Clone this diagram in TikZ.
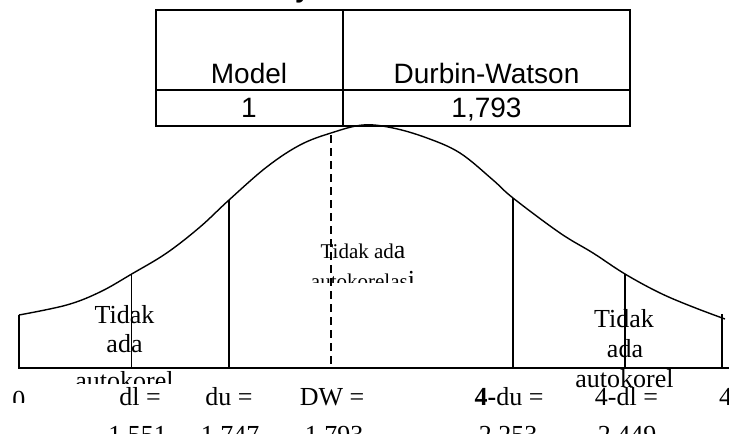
\documentclass[tikz,border=0pt]{standalone}
\usepackage{fontspec}
\setmainfont{Liberation Serif}
\newfontfamily\arialf{Liberation Sans}
\begin{document}
\begin{tikzpicture}[x=1pt,y=-1pt,
  tbl/.style={line width=1.8pt},
  crv/.style={line width=1.4pt},
  vline/.style={line width=1.4pt},
  dline/.style={line width=1.6pt, dash pattern=on 8pt off 5pt},
  lbl/.style={font=\fontsize{26}{30}\selectfont, inner sep=0pt, anchor=base},
  small/.style={font=\fontsize{21}{25}\selectfont, inner sep=0pt, anchor=base},
  sans/.style={font=\arialf\fontsize{28}{32}\selectfont, inner sep=0pt, anchor=base}]
\useasboundingbox (0,0) rectangle (729,434);
% title fragment
\node[font=\arialf\bfseries\fontsize{27}{30}\selectfont, inner sep=0pt, anchor=base west] (ttl) at (295,-3) {y};
% table
\draw[tbl] (156,10) rectangle (630,126);
\draw[tbl] (156,90) -- (630,90);
\draw[tbl] (343,10) -- (343,126);
\node[sans] (hm) at (249,83) {Model};
\node[sans] (hd) at (486.5,83) {Durbin-Watson};
\node[sans] (vm) at (249,117) {1};
\node[sans] (vd) at (486.5,117) {1,793};
% curve
\draw[crv] plot[smooth, tension=0.6] coordinates {(19,315) (66.7,305) (100,292) (131.7,274) (166.7,253) (200,227) (229,200) (266.7,167) (300,145) (331,133) (363,125) (393,128) (427,138) (460,153) (493,180) (513,198) (560,233) (593,253) (625,274) (660,293) (693,307) (725,319)};
% axis and verticals
\coordinate (b0) at (19,368);
\coordinate (bend) at (729,368);
\draw[vline] (19,315) -- (b0) -- (bend);
\draw[vline] (131.7,274) -- (131.7,368);
\draw[vline] (229,200) -- (229,368);
\draw[dline] (331,135) -- (331,368);
\draw[vline] (513,198) -- (513,368);
\draw[vline] (625,274) -- (625,368);
\draw[vline] (722,314) -- (722,368);
% region labels
\node[lbl] (l1) at (124.5,323) {Tidak};
\node[lbl] (l2) at (124.5,352) {ada};
\begin{scope}
\clip (40,360) rectangle (210,383);
\node[lbl] (l3) at (124.5,389) {autokorel};
\end{scope}
\node[small] (m1) at (363,258) {Tidak ad{\fontsize{26}{30}\selectfont a}};
\begin{scope}
\clip (290,270) rectangle (440,282);
\node[small] (m2) at (363,288) {autokorelas{\fontsize{26}{30}\selectfont i}};
\end{scope}
\node[lbl] (r1) at (624,327) {Tidak};
\node[lbl] (r2) at (625,357) {ada};
\node[lbl] (r3) at (624.5,387) {autokorel};
% axis values
\begin{scope}
\clip (0,370) rectangle (60,402);
\node[lbl] (z0) at (19,408) {0};
\end{scope}
\node[lbl] (a1) at (140,405) {dl =};
\node[lbl] (a2) at (229,405) {du =};
\node[lbl] (a3) at (332,405) {DW =};
\node[lbl] (a4) at (509,405) {\textbf{4-}du =};
\node[lbl] (a5) at (626.5,405) {4-dl =};
\node[lbl] (a6) at (725.5,405) {4};
\node[lbl] (v1) at (137.5,443) {1,551};
\node[lbl] (v2) at (230,443) {1,747};
\node[lbl] (v3) at (334,443) {1,793};
\node[lbl] (v4) at (508,443) {2,253};
\node[lbl] (v5) at (627,443) {2,449};
\end{tikzpicture}
\end{document}
